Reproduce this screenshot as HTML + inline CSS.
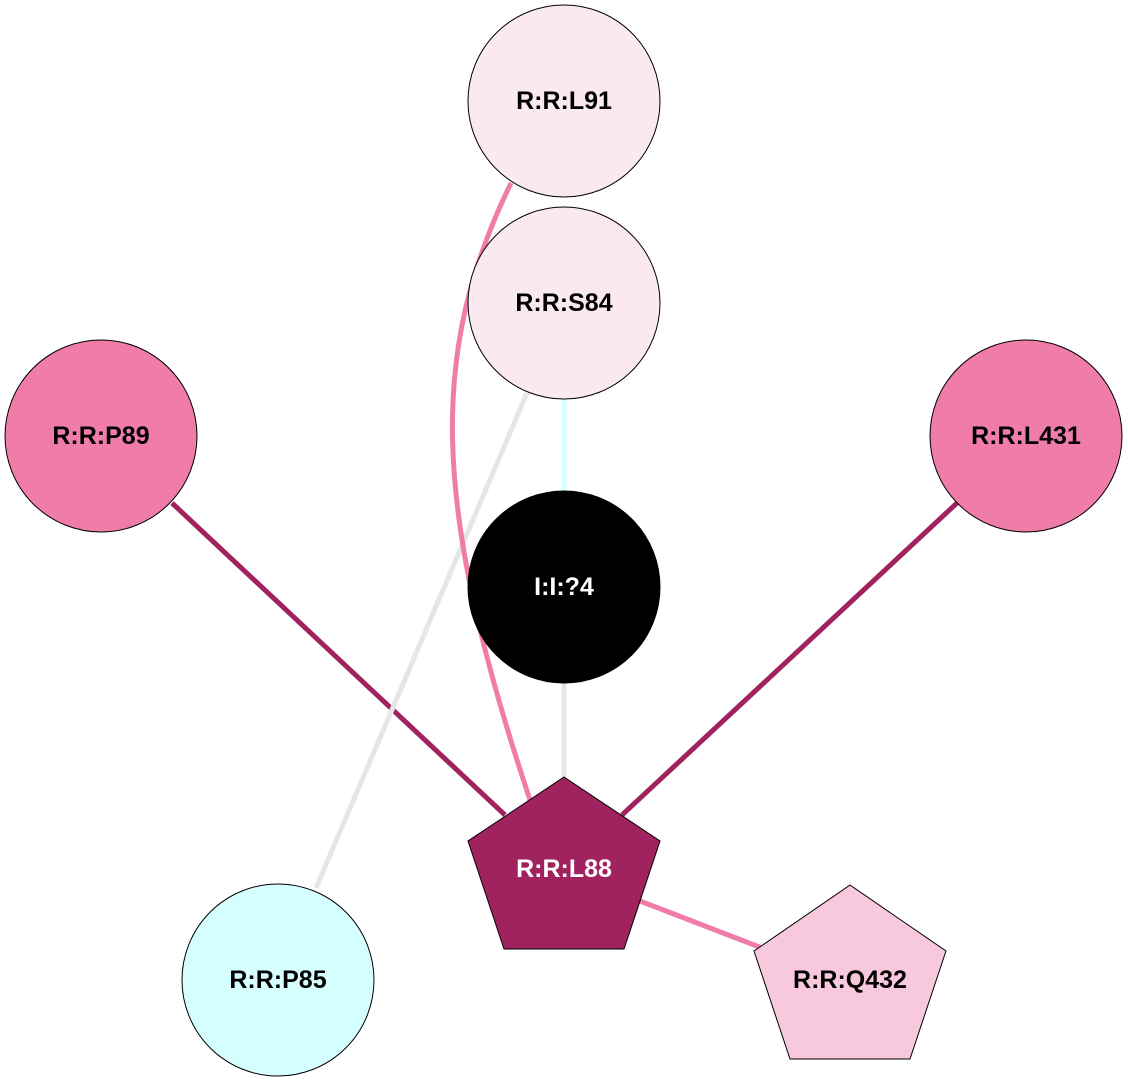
<!DOCTYPE html>
<html><head><meta charset="utf-8"><style>html,body{margin:0;padding:0;background:#fff}svg{display:block}</style></head><body>
<svg width="1128" height="1083" viewBox="0 0 1128 1083" xmlns="http://www.w3.org/2000/svg" font-family="Liberation Sans, sans-serif" font-weight="bold" font-size="25" text-anchor="middle">
<g fill="none" stroke-width="5">
<line x1="172" y1="503" x2="505" y2="815" stroke="#a0235f"/>
<line x1="957" y1="503" x2="622" y2="815" stroke="#a0235f"/>
<line x1="640" y1="901" x2="762" y2="948" stroke="#f07ca9"/>
<line x1="564" y1="683" x2="564" y2="777" stroke="#e6e6e6"/>
<line x1="564" y1="399" x2="564" y2="491" stroke="#d5ffff"/>
<line x1="527" y1="393" x2="316" y2="888" stroke="#e6e6e6"/>
<path d="M511,183 C430,350 430,500 530,800" stroke="#f07ca9"/>
</g>
<g stroke="#000" stroke-width="1">
<circle cx="564" cy="101" r="96" fill="#fbe9f1"/>
<circle cx="564" cy="303" r="96" fill="#fbe9f1"/>
<circle cx="101" cy="436" r="96" fill="#f07ca9"/>
<circle cx="1026" cy="436" r="96" fill="#f07ca9"/>
<circle cx="564" cy="587" r="96" fill="#000"/>
<circle cx="278" cy="980" r="96" fill="#d5ffff"/>
<polygon points="564,777 660,841 624,949 504,949 468,841" fill="#a0235f"/>
<polygon points="850,885 946,951 910,1059 790,1059 754,951" fill="#f8c8dc"/>
</g>
<text x="564" y="109">R:R:L91</text>
<text x="564" y="311">R:R:S84</text>
<text x="101" y="444">R:R:P89</text>
<text x="1026" y="444">R:R:L431</text>
<text x="564" y="595" fill="#fff">I:I:?4</text>
<text x="564" y="877" fill="#fff">R:R:L88</text>
<text x="850" y="988">R:R:Q432</text>
<text x="278" y="988">R:R:P85</text>
</svg>
</body></html>
